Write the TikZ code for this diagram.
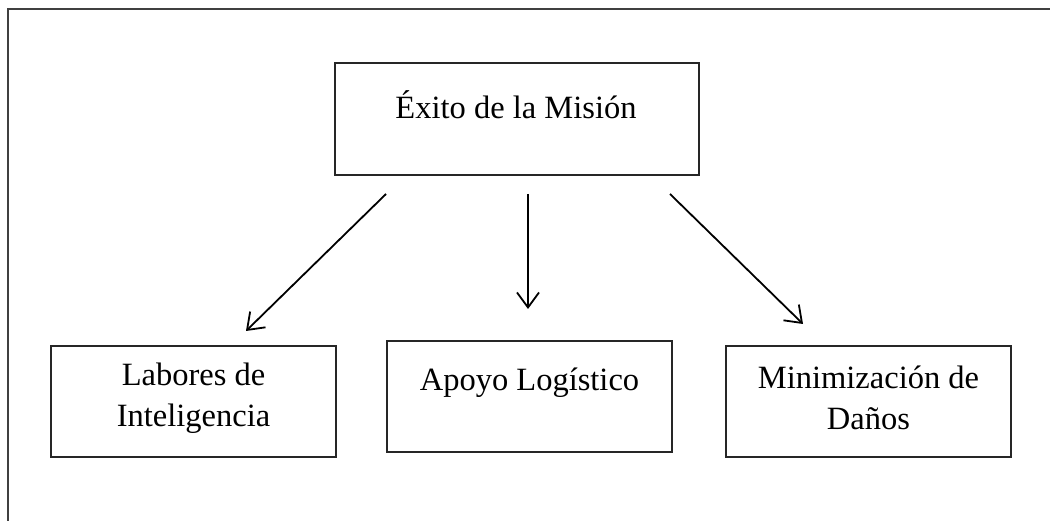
\documentclass[tikz,border=0pt]{standalone}
\usepackage{fontspec}
\setmainfont{Liberation Serif}
\usetikzlibrary{arrows.meta}
\begin{document}
\begin{tikzpicture}[x=1pt,y=-1pt,
  box/.style={draw=black!85,line width=1.1pt,minimum width=#1,inner sep=0pt},
  lbl/.style={font=\fontsize{32.5}{41}\selectfont,align=center,inner sep=0pt},
  arr/.style={line width=1.8pt,-{Straight Barb[length=15pt,width=22pt,line width=1.8pt]}},
  frame/.style={draw=black!75,line width=1.6pt}]
\useasboundingbox (0,0) rectangle (1050,521);
\coordinate (fb) at (8,521);
\coordinate (fc) at (8,9);
\coordinate (fr) at (1050,9);
\draw[frame] (fb) -- (fc) -- (fr);
% boxes
\node[box=364pt,minimum height=112pt] (top) at (517,119) {};
\node[box=285pt,minimum height=111pt] (left) at (193.5,401.5) {};
\node[box=285pt,minimum height=111pt] (mid) at (529.5,396.5) {};
\node[box=285pt,minimum height=111pt] (right) at (868.5,401.5) {};
% labels
\node[lbl] (ttop) at (516,105) {Éxito de la Misión};
\node[lbl] (tleft) at (193.5,398) {Labores de\\Inteligencia};
\node[lbl] (tmid) at (529.5,383) {Apoyo Logístico};
\node[lbl] (tright) at (868.5,398) {Minimización de\\Daños};
% arrow endpoints
\coordinate (a1s) at (386,194);
\coordinate (a1e) at (246,331);
\coordinate (a2s) at (528,194);
\coordinate (a2e) at (528,309);
\coordinate (a3s) at (670,194);
\coordinate (a3e) at (803,324);
\draw[arr] (a1s) -- (a1e);
\draw[arr] (a2s) -- (a2e);
\draw[arr] (a3s) -- (a3e);
\end{tikzpicture}
\end{document}
